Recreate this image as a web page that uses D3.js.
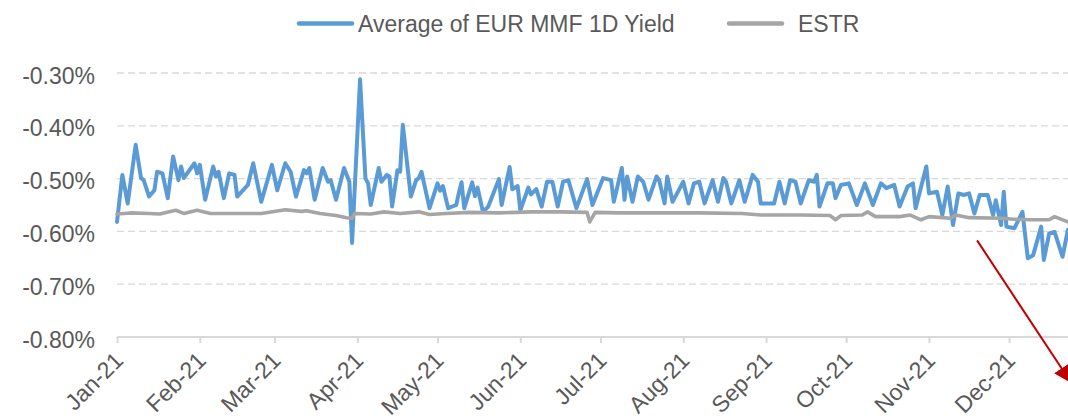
<!DOCTYPE html>
<html>
<head>
<meta charset="utf-8">
<script src="https://cdn.jsdelivr.net/npm/d3@7"></script>
<style>
  body { margin: 0; background: #fff; }
  text { font-family: 'Liberation Sans', Arial, sans-serif; }
</style>
</head>
<body>
<svg id="main"></svg>
<script>
// days since 1 Jan 2021
const yieldDays = [0, 2, 4, 7, 9, 10, 12, 14, 15, 17, 19, 21, 23, 24, 25, 29, 30, 31, 33, 36, 37, 38, 40, 42, 44, 45, 49, 51, 54, 58,
  60, 63, 65, 67, 70, 71, 72, 74, 77, 79, 80, 82, 85, 87, 88, 91, 93, 94, 95, 98, 99, 101, 102, 103, 105, 106, 107, 110, 112, 113,
  114, 117, 120, 121, 122, 124, 127, 128, 129, 130, 133, 134, 135, 137, 139, 143, 144, 147, 148, 150, 151, 154, 155, 157, 159, 161, 163, 165, 167, 169,
  172, 176, 178, 182, 185, 186, 189, 190, 191, 193, 195, 197, 199, 202, 203, 205, 206, 208, 212, 214, 216, 218, 220, 223, 225, 227, 228, 230, 233, 235,
  238, 240, 241, 246, 248, 250, 252, 254, 256, 259, 261, 262, 263, 266, 268, 269, 271, 274, 277, 280, 283, 286, 288, 291, 293, 296, 298, 299, 303, 304,
  307, 309, 311, 313, 315, 317, 319, 321, 323, 326, 328, 329, 331, 332, 333, 336, 339, 341, 343, 346, 347, 349, 351, 354, 356];
const yieldVals = [-0.582, -0.493, -0.547, -0.436, -0.499, -0.503, -0.534, -0.522, -0.487, -0.490, -0.537, -0.458, -0.503, -0.477, -0.499, -0.471, -0.490, -0.474, -0.540, -0.477, -0.496, -0.487, -0.537, -0.490, -0.493, -0.534, -0.512, -0.471, -0.544, -0.474,
  -0.522, -0.471, -0.487, -0.534, -0.484, -0.490, -0.480, -0.540, -0.480, -0.506, -0.503, -0.540, -0.480, -0.506, -0.622, -0.312, -0.499, -0.509, -0.550, -0.480, -0.506, -0.493, -0.496, -0.553, -0.484, -0.487, -0.398, -0.534, -0.503, -0.499,
  -0.487, -0.556, -0.509, -0.523, -0.514, -0.556, -0.550, -0.527, -0.507, -0.556, -0.507, -0.533, -0.517, -0.563, -0.553, -0.501, -0.550, -0.478, -0.520, -0.514, -0.560, -0.517, -0.530, -0.520, -0.553, -0.506, -0.506, -0.553, -0.506, -0.503,
  -0.556, -0.501, -0.550, -0.499, -0.503, -0.544, -0.480, -0.540, -0.496, -0.544, -0.496, -0.506, -0.540, -0.496, -0.503, -0.547, -0.496, -0.544, -0.506, -0.547, -0.509, -0.506, -0.547, -0.503, -0.544, -0.499, -0.506, -0.547, -0.503, -0.544,
  -0.493, -0.506, -0.547, -0.547, -0.506, -0.547, -0.503, -0.506, -0.547, -0.503, -0.506, -0.493, -0.553, -0.509, -0.509, -0.537, -0.512, -0.509, -0.550, -0.509, -0.550, -0.509, -0.518, -0.512, -0.553, -0.515, -0.509, -0.556, -0.477, -0.528,
  -0.525, -0.569, -0.515, -0.588, -0.528, -0.531, -0.528, -0.566, -0.531, -0.531, -0.569, -0.541, -0.588, -0.525, -0.591, -0.594, -0.563, -0.651, -0.645, -0.591, -0.654, -0.604, -0.601, -0.648, -0.597];

const estrDays = [0, 5, 12, 16, 22, 25, 30, 35, 44, 54, 63, 69, 71, 76, 82, 86, 88, 89, 95, 100, 106, 113, 117, 123, 132, 143, 155, 166, 176, 177,
  179, 188, 203, 218, 234, 241, 256, 267, 269, 271, 279, 281, 284, 293, 297, 301, 304, 312, 314, 319, 331, 336, 342, 349, 351, 356];
const estrVals = [-0.567, -0.565, -0.566, -0.567, -0.560, -0.566, -0.560, -0.566, -0.566, -0.566, -0.559, -0.562, -0.561, -0.566, -0.570, -0.574, -0.575, -0.566, -0.567, -0.563, -0.566, -0.563, -0.568, -0.566, -0.564, -0.565, -0.563, -0.563, -0.564, -0.582,
  -0.564, -0.565, -0.565, -0.565, -0.566, -0.569, -0.569, -0.570, -0.578, -0.570, -0.569, -0.563, -0.572, -0.572, -0.569, -0.578, -0.572, -0.575, -0.569, -0.574, -0.575, -0.577, -0.578, -0.578, -0.572, -0.582];

const yTicks = [-0.3, -0.4, -0.5, -0.6, -0.7, -0.8];
const monthLabels = ['Jan-21', 'Feb-21', 'Mar-21', 'Apr-21', 'May-21', 'Jun-21', 'Jul-21', 'Aug-21', 'Sep-21', 'Oct-21', 'Nov-21', 'Dec-21'];
const seriesNames = ['Average of EUR MMF 1D Yield', 'ESTR'];
// red annotation arrow, in [day, value]
const arrowPts = [[322, -0.617], [357.5, -0.885]];

const width = 1068, height = 420;
const start = new Date(2021, 0, 1);
const toDate = d => d3.timeDay.offset(start, d);

const svg = d3.select('#main')
  .attr('width', width)
  .attr('height', height);

const x = d3.scaleTime()
  .domain([start, new Date(2021, 11, 31)])
  .range([117, 117 + 364 * 2.671]);

const y = d3.scaleLinear()
  .domain([-0.8, -0.3])
  .range([337, 73]);

// gridlines
svg.selectAll('.grid')
  .data(yTicks.slice(0, -1))
  .enter()
  .append('line')
  .attr('class', 'grid')
  .attr('x1', 117)
  .attr('x2', width)
  .attr('y1', d => y(d))
  .attr('y2', d => y(d))
  .attr('stroke', '#d9d9d9')
  .attr('stroke-width', 1.3)
  .attr('stroke-dasharray', '7,4');

// y labels
svg.selectAll('.ylab')
  .data(yTicks)
  .enter()
  .append('text')
  .attr('class', 'ylab')
  .attr('x', 95)
  .attr('y', d => y(d) + 10.5)
  .attr('text-anchor', 'end')
  .attr('font-size', '23px')
  .attr('fill', '#595959')
  .text(d => d.toFixed(2) + '%');

// x axis
const xAxis = svg.append('g')
  .attr('transform', `translate(0, ${y(-0.8)})`)
  .call(d3.axisBottom(x)
    .tickValues(d3.range(12).map(m => new Date(2021, m, 1)))
    .tickSize(6)
    .tickFormat((d, i) => monthLabels[i]));

xAxis.select('.domain')
  .attr('d', `M117,0H${width}`)
  .attr('stroke', '#d9d9d9')
  .attr('stroke-width', 2);
xAxis.selectAll('.tick line')
  .attr('stroke', '#d9d9d9')
  .attr('stroke-width', 2);
xAxis.selectAll('.tick text')
  .attr('font-size', '23px')
  .attr('font-family', "'Liberation Sans', Arial, sans-serif")
  .attr('fill', '#595959')
  .attr('text-anchor', 'end')
  .attr('dy', null)
  .attr('y', null)
  .attr('transform', 'translate(7, 25) rotate(-45)');

const line = d3.line()
  .x(d => x(toDate(d[0])))
  .y(d => y(d[1]));

svg.append('path')
  .datum(yieldDays.map((d, i) => [d, yieldVals[i]]))
  .attr('d', line)
  .attr('fill', 'none')
  .attr('stroke', '#5b9bd5')
  .attr('stroke-width', 4)
  .attr('stroke-linejoin', 'round')
  .attr('stroke-linecap', 'round');

svg.append('path')
  .datum(estrDays.map((d, i) => [d, estrVals[i]]))
  .attr('d', line)
  .attr('fill', 'none')
  .attr('stroke', '#a5a5a5')
  .attr('stroke-width', 3.6)
  .attr('stroke-linejoin', 'round')
  .attr('stroke-linecap', 'round');

// arrow
svg.append('defs')
  .append('marker')
  .attr('id', 'head')
  .attr('viewBox', '0 0 10 10')
  .attr('refX', 9)
  .attr('refY', 5)
  .attr('markerWidth', 9)
  .attr('markerHeight', 9)
  .attr('orient', 'auto')
  .append('path')
  .attr('d', 'M0,0L10,5L0,10z')
  .attr('fill', '#c00000');

svg.append('path')
  .datum(arrowPts)
  .attr('d', line)
  .attr('stroke', '#c00000')
  .attr('stroke-width', 2)
  .attr('fill', 'none')
  .attr('marker-end', 'url(#head)');

// legend
const legendX = [299, 729];
const colors = ['#5b9bd5', '#a5a5a5'];
seriesNames.forEach((name, i) => {
  svg.append('line')
    .attr('x1', legendX[i])
    .attr('x2', legendX[i] + 53)
    .attr('y1', 23.5)
    .attr('y2', 23.5)
    .attr('stroke', colors[i])
    .attr('stroke-width', 4.5)
    .attr('stroke-linecap', 'round');
  svg.append('text')
    .attr('x', legendX[i] + (i == 0 ? 59 : 69))
    .attr('y', 31.5)
    .attr('font-size', '23px')
    .attr('fill', '#595959')
    .text(name);
});
</script>
</body>
</html>
